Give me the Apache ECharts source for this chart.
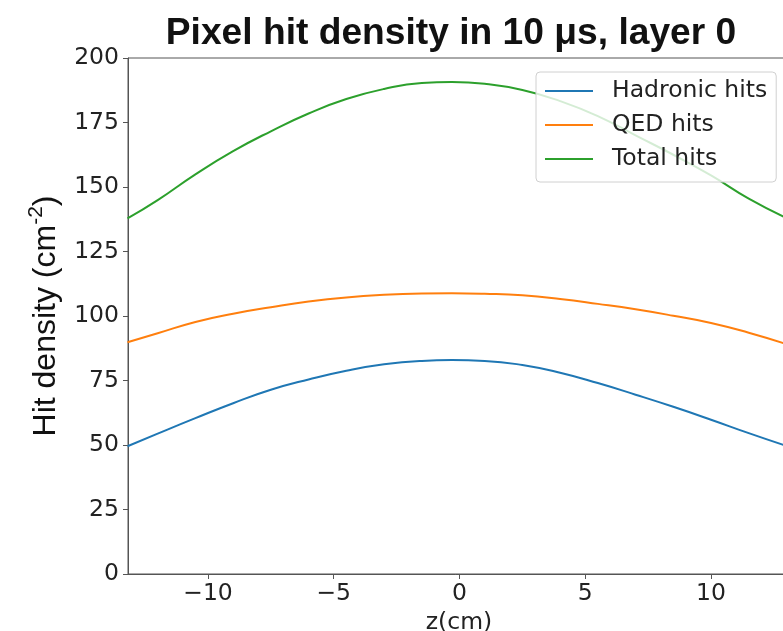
<!DOCTYPE html>
<html>
<head>
<meta charset="utf-8">
<script src="https://cdn.jsdelivr.net/npm/echarts@6/dist/echarts.min.js"></script>
<style>
html,body{margin:0;padding:0;background:#fff;}
#chart{width:783px;height:631px;}
</style>
</head>
<body>
<div id="chart"></div>
<script>
// Data
const zValues = [-13.2, -12, -10.5, -9, -7.5, -6, -4.5, -3, -1.5, -0.3, 1, 2.5, 4, 5.5, 7, 8.5, 10, 11.5, 13.1];
const hadronic = [49.5, 54.4, 60.4, 66.2, 71.4, 75.4, 78.8, 81.3, 82.6, 82.9, 82.6, 81.0, 78.0, 74.0, 69.5, 64.8, 59.8, 54.6, 49.3];
const qed      = [89.8, 93.3, 97.7, 100.9, 103.4, 105.6, 107.2, 108.2, 108.7, 108.8, 108.6, 108.0, 106.6, 104.7, 102.6, 100.1, 97.3, 93.5, 88.8];
const total    = [137.8, 144.9, 154.9, 163.9, 171.6, 178.5, 184.1, 188.0, 190.3, 190.7, 190.0, 187.6, 183.3, 177.5, 170.0, 162.5, 154.5, 145.5, 137.5];
const seriesNames = ['Hadronic hits', 'QED hits', 'Total hits'];
const xTicks = [-10, -5, 0, 5, 10];

const colors = ['#1f77b4', '#ff7f0e', '#2ca02c'];
const tickFont = 'DejaVu Sans';
const tickSize = 23.5;

function pairs(vals) { return zValues.map((z, i) => [z, vals[i]]); }

const chart = echarts.init(document.getElementById('chart'), null, {renderer: 'canvas'});
chart.setOption({
  animation: false,
  backgroundColor: '#fff',
  title: {
    text: 'Pixel hit density in 10 μs, layer 0',
    left: 446, top: 10, textAlign: 'center',
    textStyle: {fontFamily: 'Liberation Sans', fontWeight: 'bold', fontSize: 37.2, color: '#111'}
  },
  grid: {
    left: 128, right: -7, top: 58, bottom: 57,
    outerBoundsMode: 'none', containLabel: false,
    show: true, borderColor: '#555', borderWidth: 1, backgroundColor: 'transparent'
  },
  legend: {
    orient: 'vertical', left: 536, top: 72,
    data: seriesNames,
    icon: 'rect',
    itemWidth: 48, itemHeight: 2, itemGap: 8,
    padding: [6, 9, 10, 9],
    backgroundColor: 'rgba(255,255,255,0.8)',
    borderColor: '#d0d0d0', borderWidth: 1, borderRadius: 4,
    textStyle: {fontFamily: tickFont, fontSize: tickSize, color: '#222', lineHeight: 26, padding: [0, 0, 0, 14]}
  },
  xAxis: {
    type: 'value', min: -13.18, max: 13.14,
    name: 'z(cm)', nameLocation: 'middle', nameGap: 35,
    nameTextStyle: {fontFamily: tickFont, fontSize: tickSize, color: '#222'},
    axisLine: {show: true, onZero: false, lineStyle: {color: '#555', width: 1}},
    axisTick: {show: true, customValues: xTicks, length: 5, lineStyle: {color: '#555'}},
    axisLabel: {customValues: xTicks, fontFamily: tickFont, fontSize: tickSize, color: '#222', margin: 8,
      formatter: v => (v < 0 ? '\u2212' + Math.abs(v) : String(v))},
    splitLine: {show: false}
  },
  yAxis: {
    type: 'value', min: 0, max: 200, interval: 25,
    name: '{n|Hit density (cm}{s|-2}{n|)}', nameLocation: 'middle', nameGap: 66, nameRotate: 90,
    nameTextStyle: {
      rich: {
        n: {fontFamily: 'Liberation Sans', fontSize: 32, color: '#111', verticalAlign: 'bottom', lineHeight: 36},
        s: {fontFamily: 'Liberation Sans', fontSize: 21, color: '#111', verticalAlign: 'top', lineHeight: 36, padding: [0, 0, 14, 0]}
      }
    },
    axisLine: {show: true, onZero: false, lineStyle: {color: '#555', width: 1}},
    axisTick: {show: true, length: 5, lineStyle: {color: '#555'}},
    axisLabel: {fontFamily: tickFont, fontSize: tickSize, color: '#222', margin: 9},
    splitLine: {show: false}
  },
  series: [
    {name: seriesNames[0], type: 'line', data: pairs(hadronic), symbol: 'none', smooth: 0.5,
      lineStyle: {color: colors[0], width: 2}, itemStyle: {color: colors[0]}},
    {name: seriesNames[1], type: 'line', data: pairs(qed), symbol: 'none', smooth: 0.5,
      lineStyle: {color: colors[1], width: 2}, itemStyle: {color: colors[1]}},
    {name: seriesNames[2], type: 'line', data: pairs(total), symbol: 'none', smooth: 0.5,
      lineStyle: {color: colors[2], width: 2}, itemStyle: {color: colors[2]}}
  ]
});
</script>
</body>
</html>
